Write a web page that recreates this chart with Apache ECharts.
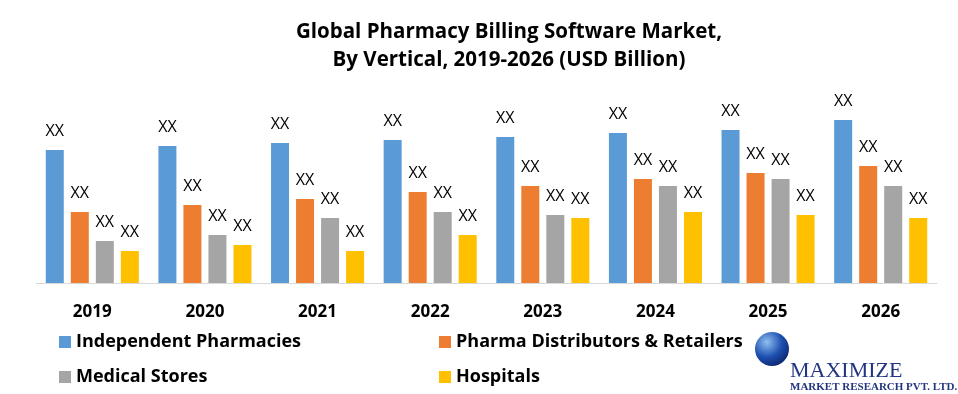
<!DOCTYPE html>
<html>
<head>
<meta charset="utf-8">
<script src="https://cdn.jsdelivr.net/npm/echarts@6/dist/echarts.min.js"></script>
<style>html,body{margin:0;padding:0;background:#fff;}#c{width:958px;height:394px;}</style>
</head>
<body>
<div id="c"></div>
<script>
const categories = ['2019','2020','2021','2022','2023','2024','2025','2026'];
const seriesNames = ['Independent Pharmacies','Pharma Distributors & Retailers','Medical Stores','Hospitals'];
const independentPharmacies = [133,137,140,143,146,150,153,163];
const pharmaDistributors = [71,78,84,91,97,104,110,117];
const medicalStores = [42,48,65,71,68,97,104,97];
const hospitals = [32,38,32,48,65,71,68,65];
const dataLabel = 'XX';
const colors = ['#5B9BD5','#ED7D31','#A5A5A5','#FFC000'];

const seriesData = [independentPharmacies, pharmaDistributors, medicalStores, hospitals];
const FONT = '"Open Sans", Lato, sans-serif';

const chart = echarts.init(document.getElementById('c'), null, {renderer:'canvas'});
const legendText = {fontSize:18,fontWeight:'bold',color:'#000',fontFamily:FONT,lineHeight:20};
chart.setOption({
  animation:false,
  backgroundColor:'#fff',
  color: colors,
  grid:{left:36,right:21,top:83,bottom:111,containLabel:false},
  xAxis:{
    type:'category', data:categories,
    axisLine:{show:true,lineStyle:{color:'#D9D9D9',width:1}},
    axisTick:{show:false},
    axisLabel:{margin:21,fontSize:17,fontWeight:'bold',color:'#000',fontFamily:FONT}
  },
  yAxis:{type:'value',min:0,max:200,show:false,splitLine:{show:false}},
  legend:[
    {data:[seriesNames[0],seriesNames[2]],orient:'vertical',left:59,top:332,padding:0,itemWidth:12,itemHeight:12,itemGap:15,icon:'rect',textStyle:legendText},
    {data:[seriesNames[1],seriesNames[3]],orient:'vertical',left:439,top:332,padding:0,itemWidth:12,itemHeight:12,itemGap:15,icon:'rect',textStyle:legendText}
  ],
  series: seriesNames.map((n,i)=>({
    name:n, type:'bar', data:seriesData[i], barWidth:18, barGap:'39%',
    itemStyle:{color:colors[i]},
    label:{show:true,position:'top',distance:11,formatter:()=>dataLabel,fontSize:16,color:'#000',fontFamily:FONT}
  })),
  graphic:[
    {type:'text',x:509,y:46,style:{text:'Global Pharmacy Billing Software Market,\nBy Vertical, 2019-2026 (USD Billion)',
      font:'bold 20.5px '+FONT,fill:'#000',textAlign:'center',textVerticalAlign:'middle',lineHeight:28}},
    {type:'circle',shape:{cx:772,cy:349,r:17},style:{fill:new echarts.graphic.RadialGradient(0.35,0.3,0.8,[{offset:0,color:'#8fc0f0'},{offset:0.55,color:'#1d4fb0'},{offset:1,color:'#0b1f66'}])}},
    {type:'text',x:790,y:371,style:{text:'MAXIMIZE',font:'22px "Liberation Serif", serif',fill:'#22357f',textVerticalAlign:'middle'}},
    {type:'text',x:790,y:387,style:{text:'MARKET RESEARCH PVT. LTD.',font:'bold 11px "Liberation Serif", serif',fill:'#22357f',textVerticalAlign:'middle'}}
  ]
});
</script>
</body>
</html>
